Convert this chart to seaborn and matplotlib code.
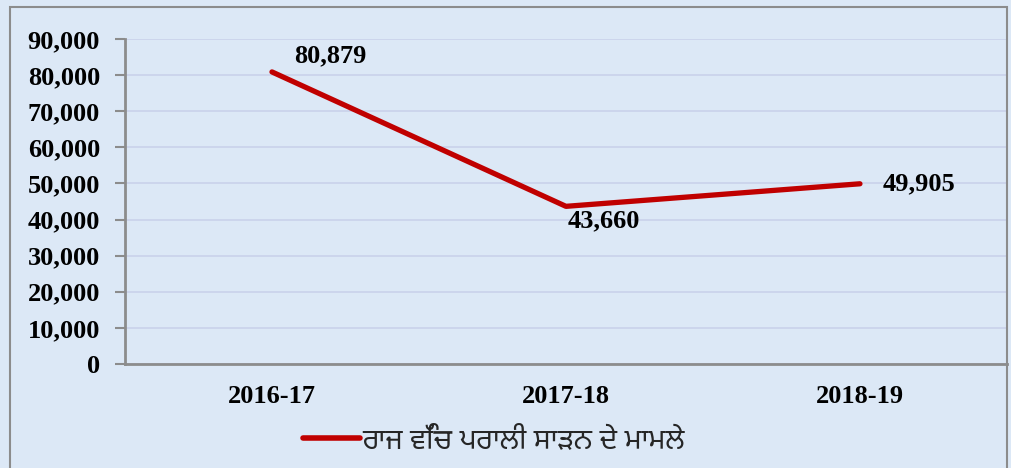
import matplotlib
matplotlib.use("Agg")
import matplotlib.pyplot as plt
import matplotlib.patches as mpatches
from matplotlib.ticker import FuncFormatter, FixedLocator
import pandas as pd
import seaborn as sns

years = ["2016-17", "2017-18", "2018-19"]
cases = [80879, 43660, 49905]
series_name = "ਰਾਜ ਵਿੱਚ ਪਰਾਲੀ ਸਾੜਨ ਦੇ ਮਾਮਲੇ"
y_ticks = [0, 10000, 20000, 30000, 40000, 50000, 60000, 70000, 80000, 90000]

BG = "#dce8f6"
LINE = "#c00000"
GRID = "#c9d2ea"
SPINE = "#8c8c8c"
FS = 19

sns.set_theme(style="white")
plt.rcParams["font.family"] = ["Liberation Serif", "DejaVu Serif"]

df = pd.DataFrame({"year": years, "cases": cases, "series": series_name})

fig = plt.figure(figsize=(10.12, 4.68), dpi=100, facecolor=BG)
ax = fig.add_axes([0.1235, 0.2222, 0.8715, 0.6945])
ax.set_facecolor(BG)

sns.lineplot(data=df, x="year", y="cases", hue="series", palette=[LINE],
             linewidth=3.8, ax=ax, legend=False, sort=False)
ax.lines[0].set_solid_capstyle("round")

ax.set_ylim(0, 90000)
ax.set_xlim(-0.5, 2.5)
ax.yaxis.set_major_locator(FixedLocator(y_ticks))
ax.yaxis.set_major_formatter(FuncFormatter(lambda v, p: f"{int(v):,}"))
ax.grid(axis="y", color=GRID, linewidth=1.2)
ax.set_axisbelow(True)

ax.set_xticks(range(len(years)))
ax.set_xticklabels(years)
ax.set_xticks([-0.5, 0.5, 1.5, 2.5], minor=True)
ax.tick_params(axis="x", which="major", length=0, pad=15)
ax.tick_params(axis="x", which="minor", length=6, color=SPINE, width=1.5, direction="out")
ax.tick_params(axis="y", length=7, color=SPINE, width=1.5, direction="out", pad=11, left=True)
for lbl in ax.get_xticklabels() + ax.get_yticklabels():
    lbl.set_fontsize(FS)
    lbl.set_fontweight("bold")
    lbl.set_color("black")

for side in ["top", "right"]:
    ax.spines[side].set_visible(False)
for side in ["left", "bottom"]:
    ax.spines[side].set_color(SPINE)
    ax.spines[side].set_linewidth(2)

ax.set_xlabel("")
ax.set_ylabel("")

offsets = [(16, 11.5, "left", "center"), (1, -2, "left", "top"), (16, 0, "left", "center")]
for i, (v, (dx, dy, ha, va)) in enumerate(zip(cases, offsets)):
    ax.annotate(f"{v:,}", (i, v), xytext=(dx, dy), textcoords="offset points",
                ha=ha, va=va, fontsize=FS, fontweight="bold", color="black")

handle = plt.Line2D([], [], color=LINE, linewidth=4, solid_capstyle="round")
fig.legend([handle], [series_name], loc="center", bbox_to_anchor=(0.488, 0.058),
           frameon=False, handlelength=2.0, handletextpad=0.1,
           prop={"family": ["Noto Sans Gurmukhi", "Lohit Gurmukhi", "Raavi", "DejaVu Sans"],
                 "size": 20.5})

border = mpatches.Rectangle((10 / 1012, -0.1), 997 / 1012, 1.1 - 7 / 468,
                            transform=fig.transFigure, fill=False,
                            edgecolor="#8c8c8c", linewidth=1.5)
fig.patches.append(border)

fig.savefig("out.png", dpi=100, facecolor=BG)
